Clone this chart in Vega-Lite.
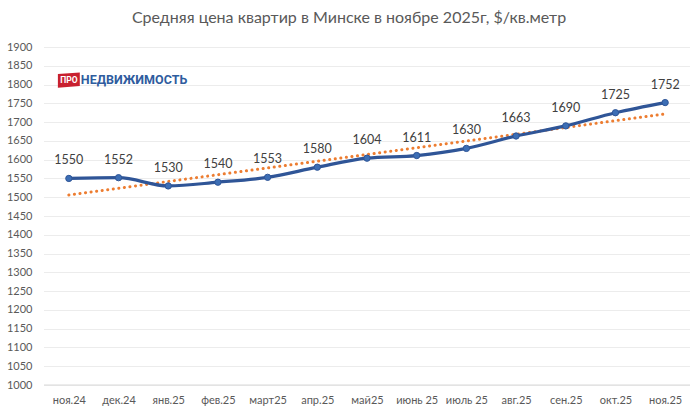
{
  "$schema": "https://vega.github.io/schema/vega-lite/v6.json",
  "autosize": {"type": "none"},
  "width": 646,
  "height": 338,
  "padding": {"left": 44, "top": 47, "right": 7, "bottom": 31},
  "background": "white",
  "title": {
    "text": "Средняя  цена квартир в Минске в ноябре 2025г, $/кв.метр",
    "font": "Lato",
    "fontSize": 16,
    "fontWeight": "normal",
    "color": "#595959",
    "anchor": "middle",
    "frame": "group",
    "dx": -18,
    "offset": 15
  },
  "datasets": {
    "prices": [
      {"i": 0, "month": "ноя.24", "price": 1550},
      {"i": 1, "month": "дек.24", "price": 1552},
      {"i": 2, "month": "янв.25", "price": 1530},
      {"i": 3, "month": "фев.25", "price": 1540},
      {"i": 4, "month": "март25", "price": 1553},
      {"i": 5, "month": "апр.25", "price": 1580},
      {"i": 6, "month": "май25", "price": 1604},
      {"i": 7, "month": "июнь 25", "price": 1611},
      {"i": 8, "month": "июль 25", "price": 1630},
      {"i": 9, "month": "авг.25", "price": 1663},
      {"i": 10, "month": "сен.25", "price": 1690},
      {"i": 11, "month": "окт.25", "price": 1725},
      {"i": 12, "month": "ноя.25", "price": 1752}
    ],
    "logo": [
      {"month": "ноя.24", "price": 1812, "brand": "ПРО", "name": "НЕДВИЖИМОСТЬ"}
    ]
  },
  "encoding": {
    "x": {
      "field": "month",
      "type": "ordinal",
      "scale": {
        "type": "point",
        "padding": 0.5,
        "domain": ["ноя.24", "дек.24", "янв.25", "фев.25", "март25", "апр.25", "май25", "июнь 25", "июль 25", "авг.25", "сен.25", "окт.25", "ноя.25"]
      },
      "axis": {
        "title": null,
        "labelAngle": 0,
        "labelFont": "Lato",
        "labelFontSize": 11,
        "labelColor": "#595959",
        "ticks": false,
        "domain": false,
        "grid": false,
        "labelPadding": 9
      }
    },
    "y": {
      "field": "price",
      "type": "quantitative",
      "scale": {"domain": [1000, 1900], "nice": false, "zero": false},
      "axis": {
        "title": null,
        "format": "d",
        "values": [1000, 1050, 1100, 1150, 1200, 1250, 1300, 1350, 1400, 1450, 1500, 1550, 1600, 1650, 1700, 1750, 1800, 1850, 1900],
        "labelFont": "Lato",
        "labelFontSize": 11,
        "labelColor": "#595959",
        "ticks": false,
        "domain": false,
        "labelPadding": 12,
        "gridColor": "#d9d9d9",
        "gridDash": [1, 1],
        "gridWidth": 1
      }
    }
  },
  "layer": [
    {
      "data": {"values": [{"price": 1000}]},
      "mark": {"type": "rule", "color": "#d9d9d9", "strokeWidth": 1},
      "encoding": {"x": null, "y": {"field": "price", "type": "quantitative"}}
    },
    {
      "data": {"name": "prices"},
      "transform": [
        {"regression": "price", "on": "i"},
        {"lookup": "i", "from": {"data": {"name": "prices"}, "key": "i", "fields": ["month"]}}
      ],
      "mark": {"type": "line", "color": "#ED7D31", "strokeWidth": 3, "strokeDash": [0.1, 5.5], "strokeCap": "round"},
      "encoding": {}
    },
    {
      "data": {"name": "prices"},
      "mark": {"type": "line", "color": "#2F5597", "strokeWidth": 3.2, "interpolate": "monotone"},
      "encoding": {}
    },
    {
      "data": {"name": "prices"},
      "mark": {"type": "point", "filled": true, "shape": "circle", "size": 40, "color": "#3C6EB5", "stroke": "#2F5597", "strokeWidth": 1, "opacity": 1},
      "encoding": {}
    },
    {
      "data": {"name": "prices"},
      "mark": {"type": "text", "dy": -18, "font": "Lato", "fontSize": 12.5, "color": "#404040"},
      "encoding": {"text": {"field": "price", "type": "quantitative"}}
    },
    {
      "data": {"name": "logo"},
      "mark": {"type": "point", "filled": true, "shape": "M -1 -0.55 L 1 -0.7 L 1 0.55 L -1 0.7 Z", "size": 480, "color": "#C8202F", "opacity": 1},
      "encoding": {}
    },
    {
      "data": {"name": "logo"},
      "mark": {"type": "text", "font": "Roboto", "fontWeight": "bold", "fontSize": 8.5, "color": "white", "baseline": "middle"},
      "encoding": {"text": {"field": "brand"}}
    },
    {
      "data": {"name": "logo"},
      "mark": {"type": "text", "align": "left", "dx": 12, "font": "Roboto", "fontWeight": "bold", "fontSize": 12.5, "color": "#2F5C9E", "baseline": "middle"},
      "encoding": {"text": {"field": "name"}}
    }
  ],
  "config": {
    "view": {"stroke": null}
  }
}
